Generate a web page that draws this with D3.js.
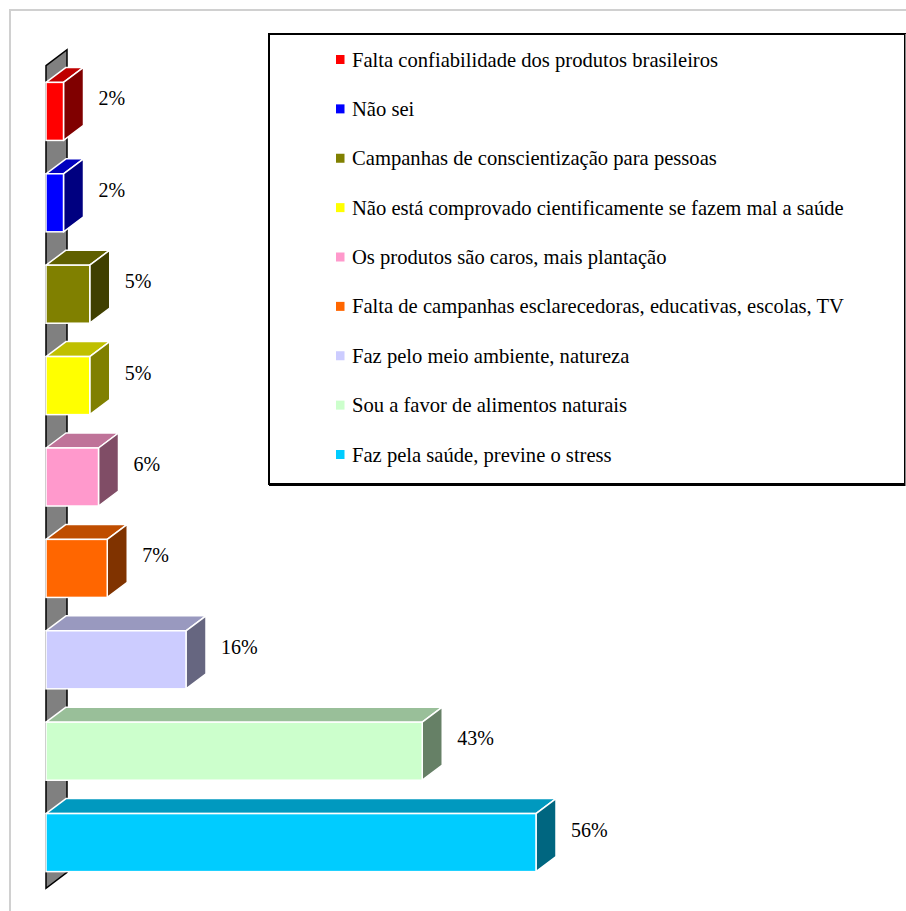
<!DOCTYPE html>
<html>
<head>
<meta charset="utf-8">
<script src="https://cdn.jsdelivr.net/npm/d3@7"></script>
<style>
  html, body { margin: 0; padding: 0; background: #fff; }
  svg { display: block; }
</style>
</head>
<body>
<svg id="chart" width="906" height="911"></svg>
<script>
// Survey answers (top to bottom) and their share of responses, in percent
const categories = [
  "Falta confiabilidade dos produtos brasileiros",
  "Não sei",
  "Campanhas de conscientização para pessoas",
  "Não está comprovado cientificamente se fazem mal a saúde",
  "Os produtos são caros, mais plantação",
  "Falta de campanhas esclarecedoras, educativas, escolas, TV",
  "Faz pelo meio ambiente, natureza",
  "Sou a favor de alimentos naturais",
  "Faz pela saúde, previne o stress"
];
const values = [2, 2, 5, 5, 6, 7, 16, 43, 56];
const valueLabels = ["2%", "2%", "5%", "5%", "6%", "7%", "16%", "43%", "56%"];
const palette = ["#FF0000", "#0000FF", "#808000", "#FFFF00", "#FF99CC",
                 "#FF6600", "#CCCCFF", "#CCFFCC", "#00CCFF"];

const serif = "'Liberation Serif', 'Times New Roman', Times, 'DejaVu Serif', serif";

const svg = d3.select("#chart");

// outer chart-area frame
svg.append("rect")
  .attr("x", 10).attr("y", 10).attr("width", 930).attr("height", 930)
  .attr("fill", "none").attr("stroke", "#d0d0d0").attr("stroke-width", 2);

const x = d3.scaleLinear().domain([0, 60]).range([46, 571]);
const y = d3.scaleBand().domain(categories).range([65.7, 888.3])
  .paddingInner(0.365).paddingOuter(0.1825);

// depth offset of the 3D effect
const dx = 20, dy = -15;

const shade = (c, k) => {
  const r = d3.rgb(c);
  return d3.rgb(r.r * k, r.g * k, r.b * k).formatHex();
};

// back wall along the category axis
const x0 = x(0);
const [wy0, wy1] = y.range();
svg.append("path")
  .attr("d", `M${x0},${wy0} L${x0 + dx + 1},${wy0 + dy - 1} L${x0 + dx + 1},${wy1 + dy - 1} L${x0},${wy1} Z`)
  .attr("fill", "#808080").attr("stroke", "#000").attr("stroke-width", 1.5)
  .attr("stroke-linejoin", "miter");

const bars = svg.append("g").selectAll("g.bar")
  .data(categories.map((c, i) => ({ c, v: values[i], col: palette[i], lab: valueLabels[i] })))
  .join("g").attr("class", "bar");

bars.each(function (d) {
  const g = d3.select(this);
  const bx0 = x(0), bx1 = x(d.v);
  const by0 = y(d.c), by1 = y(d.c) + y.bandwidth();
  // top face
  g.append("path")
    .attr("d", `M${bx0},${by0} L${bx0 + dx},${by0 + dy} L${bx1 + dx},${by0 + dy} L${bx1},${by0} Z`)
    .attr("fill", shade(d.col, 0.75)).attr("stroke", "#fff").attr("stroke-width", 1.5)
    .attr("stroke-linejoin", "round");
  // side face
  g.append("path")
    .attr("d", `M${bx1},${by0} L${bx1 + dx},${by0 + dy} L${bx1 + dx},${by1 + dy} L${bx1},${by1} Z`)
    .attr("fill", shade(d.col, 0.5)).attr("stroke", "#fff").attr("stroke-width", 1.5)
    .attr("stroke-linejoin", "round");
  // front face
  g.append("rect")
    .attr("x", bx0).attr("y", by0).attr("width", bx1 - bx0).attr("height", by1 - by0)
    .attr("fill", d.col).attr("stroke", "#fff").attr("stroke-width", 1.5);
  // value label
  g.append("text")
    .attr("x", bx1 + 35).attr("y", (by0 + by1) / 2 - 6)
    .attr("font-family", serif).attr("font-size", 20).attr("fill", "#000")
    .text(d.lab);
});

// legend
const legend = svg.append("g");
legend.append("rect")
  .attr("x", 269).attr("y", 34).attr("width", 636).attr("height", 450)
  .attr("fill", "#fff").attr("stroke", "#000").attr("stroke-width", 2);
legend.append("line")
  .attr("x1", 269).attr("x2", 906).attr("y1", 485).attr("y2", 485)
  .attr("stroke", "#000").attr("stroke-width", 2);
legend.append("line")
  .attr("x1", 905.5).attr("x2", 905.5).attr("y1", 34).attr("y2", 486)
  .attr("stroke", "#888").attr("stroke-width", 1);

const ly = d3.scalePoint().domain(categories).range([66.5, 461.5]);
const items = legend.selectAll("g.item").data(categories).join("g").attr("class", "item");
items.append("rect")
  .attr("x", 336).attr("y", d => ly(d) - 11.5).attr("width", 8.5).attr("height", 9)
  .attr("fill", (d, i) => palette[i]);
items.append("text")
  .attr("x", 352).attr("y", d => ly(d))
  .attr("font-family", serif).attr("font-size", 20.6).attr("fill", "#000")
  .text(d => d);
</script>
</body>
</html>
